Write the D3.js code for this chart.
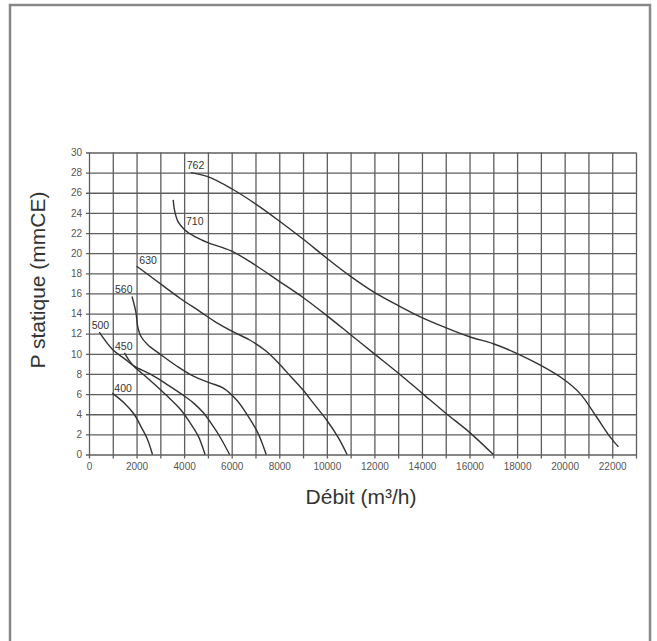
<!DOCTYPE html>
<html>
<head>
<meta charset="utf-8">
<script src="https://cdn.jsdelivr.net/npm/d3@7"></script>
<style>
  body { margin: 0; background: #fff; }
  svg { display: block; font-family: "Liberation Sans", Arial, sans-serif; }
  .grid line { stroke: #5e5e5e; stroke-width: 1.3; }
  .grid text { fill: #555; font-size: 10px; }
  .curve { fill: none; stroke: #333; stroke-width: 1.4; }
</style>
</head>
<body>
<div id="chart"></div>
<script>
// fan curves, [debit m3/h, pression mmCE]
const fan400 = [[980,6.1],[1490,5.1],[1900,4.0],[2180,2.8],[2460,1.5],[2670,0]];
const fan450 = [[1490,10.1],[1700,9.3],[1900,8.75],[2600,7.3],[3290,5.8],[3840,4.5],[4250,3.15],[4600,1.8],[4810,0.5],[4880,0]];
const fan500 = [[430,12.15],[1000,10.4],[1500,9.5],[1900,8.77],[2600,7.95],[3290,6.95],[3980,5.86],[4390,5.13],[4810,4.14],[5220,2.81],[5570,1.49],[5910,0]];
const fan560 = [[1810,15.7],[1975,14.1],[2045,12.75],[2180,11.75],[2460,10.93],[3010,9.93],[3700,8.77],[4390,7.78],[5080,7.12],[5630,6.62],[6190,5.46],[6600,4.14],[7100,2.15],[7300,1.0],[7450,0]];
const fan630 = [[2000,18.7],[2180,18.4],[3150,16.7],[3840,15.5],[4670,14.2],[5360,13.1],[6050,12.2],[6740,11.4],[7430,10.3],[8000,9.0],[8500,7.7],[9000,6.4],[9500,4.9],[10000,3.4],[10500,1.6],[10850,0]];
const fan710 = [[3540,25.3],[3610,24.1],[3750,23.1],[4030,22.3],[4450,21.65],[5000,21.05],[6000,20.2],[7000,18.8],[8000,17.2],[9000,15.6],[10000,13.8],[11000,11.9],[12000,10.0],[13000,8.1],[14000,6.1],[15000,4.1],[16000,2.2],[17000,0]];
const fan762 = [[4280,28.0],[5000,27.6],[6000,26.4],[7000,24.9],[8000,23.2],[9000,21.4],[10000,19.5],[11000,17.7],[12000,16.1],[13000,14.8],[14000,13.6],[15000,12.6],[16000,11.7],[17000,11.0],[17840,10.2],[18960,8.9],[19940,7.5],[20650,6.05],[21350,3.7],[21910,1.75],[22260,0.76]];

const fanNames = ['400','450','500','560','630','710','762'];
// label anchor (left, baseline) in data units
const labelPos = [[1065,6.2],[1094,10.4],[113,12.5],[1094,16.05],[2117,18.9],[4080,22.8],[4110,28.4]];

const xTicks = d3.range(0, 23001, 1000);
const yTicks = d3.range(0, 31, 2);

const W = 657, H = 641;
const svg = d3.select('#chart').append('svg')
    .attr('width', W)
    .attr('height', H);

svg.append('rect').attr('width', W).attr('height', H).attr('fill', '#fff');

// outer frame
svg.append('rect')
    .attr('x', 10).attr('y', 5)
    .attr('width', 640).attr('height', 660)
    .attr('fill', 'none')
    .attr('stroke', '#888')
    .attr('stroke-width', 2.5);

const x = d3.scaleLinear().domain([0, 23000]).range([89, 636]);
const y = d3.scaleLinear().domain([0, 30]).range([454.5, 152.5]);
const pw = x.range()[1] - x.range()[0];
const ph = y.range()[0] - y.range()[1];

// vertical grid + x labels
const gx = svg.append('g')
    .attr('class', 'grid')
    .attr('transform', `translate(0,${y(0)})`)
    .call(d3.axisBottom(x).tickValues(xTicks).tickSize(-ph)
        .tickFormat(d => d % 2000 === 0 ? d : ''));
gx.select('.domain').remove();
gx.selectAll('.tick line').attr('y1', 4);
gx.selectAll('.tick text').attr('y', 8);

// horizontal grid + y labels
const gy = svg.append('g')
    .attr('class', 'grid')
    .attr('transform', `translate(${x(0)},0)`)
    .call(d3.axisLeft(y).tickValues(yTicks).tickSize(-pw));
gy.select('.domain').remove();
gy.selectAll('.tick line').attr('x1', -3);
gy.selectAll('.tick text').attr('x', -7);

// curves
const line = d3.line()
    .x(d => x(d[0]))
    .y(d => y(d[1]))
    .curve(d3.curveCatmullRom.alpha(0.5));

const fans = [fan400, fan450, fan500, fan560, fan630, fan710, fan762];
svg.selectAll('.curve')
    .data(fans)
    .enter()
    .append('path')
    .attr('class', 'curve')
    .attr('d', line);

svg.selectAll('.fan-label')
    .data(fanNames)
    .enter()
    .append('text')
    .attr('class', 'fan-label')
    .attr('x', (d, i) => x(labelPos[i][0]))
    .attr('y', (d, i) => y(labelPos[i][1]))
    .attr('font-size', 10.5)
    .attr('fill', '#333')
    .text(d => d);

// axis titles
svg.append('text')
    .attr('x', 361)
    .attr('y', 504)
    .attr('text-anchor', 'middle')
    .attr('font-size', 21)
    .attr('fill', '#333')
    .text('Débit (m³/h)');

svg.append('text')
    .attr('transform', 'translate(45,280) rotate(-90)')
    .attr('text-anchor', 'middle')
    .attr('font-size', 21)
    .attr('fill', '#333')
    .text('P statique (mmCE)');
</script>
</body>
</html>
